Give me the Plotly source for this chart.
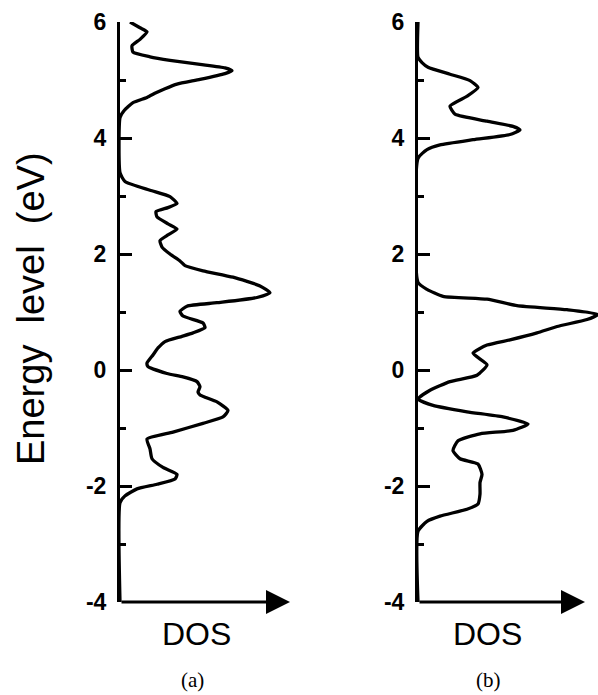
import plotly.graph_objects as go

# Panel (a): energy (eV) and DOS (arb. units)
energy_a = [6.00, 5.90, 5.83, 5.70, 5.59, 5.48, 5.40, 5.34, 5.27, 5.21, 5.16, 5.11, 5.01, 4.93, 4.85,
            4.78, 4.70, 4.61, 4.47, 4.35, 3.40, 3.25, 3.10, 2.99, 2.87, 2.80, 2.73, 2.64, 2.52, 2.43,
            2.33, 2.23, 2.12, 2.00, 1.88, 1.80, 1.71, 1.60, 1.45, 1.33, 1.25, 1.16, 1.10, 1.01, 0.93,
            0.81, 0.73, 0.64, 0.58, 0.49, 0.38, 0.26, 0.12, 0.06, -0.06, -0.12, -0.20, -0.29, -0.38,
            -0.43, -0.55, -0.70, -0.81, -0.92, -1.07, -1.19, -1.36, -1.53, -1.68, -1.80, -1.88, -1.97,
            -2.05, -2.17, -2.29, -4.00]
dos_a = [0.10, 0.20, 0.27, 0.20, 0.12, 0.13, 0.30, 0.50, 0.80, 1.05, 1.12, 1.05, 0.80, 0.57, 0.45,
         0.36, 0.27, 0.13, 0.04, 0.00, 0.00, 0.05, 0.30, 0.50, 0.57, 0.48, 0.36, 0.37, 0.48, 0.57,
         0.48, 0.40, 0.42, 0.50, 0.60, 0.65, 0.83, 1.13, 1.40, 1.50, 1.37, 0.97, 0.67, 0.60, 0.63,
         0.83, 0.85, 0.73, 0.62, 0.45, 0.38, 0.33, 0.27, 0.28, 0.47, 0.63, 0.77, 0.80, 0.78,
         0.80, 0.97, 1.08, 1.03, 0.83, 0.53, 0.27, 0.30, 0.32, 0.43, 0.57, 0.55, 0.37,
         0.17, 0.05, 0.00, 0.00]

# Panel (b)
energy_b = [6.00, 5.39, 5.30, 5.22, 5.10, 4.99, 4.87, 4.72, 4.55, 4.41, 4.29, 4.20, 4.14, 4.06, 3.97,
            3.88, 3.80, 3.65, 1.51, 1.39, 1.27, 1.22, 1.11, 1.04, 0.96, 0.87, 0.75, 0.64, 0.52, 0.43,
            0.29, 0.09, -0.09, -0.20, -0.35, -0.50, -0.61, -0.72, -0.81, -0.93, -1.04, -1.10, -1.22,
            -1.39, -1.53, -1.62, -1.80, -1.94, -2.14, -2.31, -2.40, -2.52, -2.61, -2.78, -4.00]
dos_b = [0.00, 0.00, 0.04, 0.10, 0.32, 0.52, 0.60, 0.49, 0.32, 0.37, 0.69, 0.95, 1.02, 0.92, 0.55,
         0.22, 0.09, 0.00, 0.00, 0.09, 0.25, 0.69, 0.99, 1.49, 1.80, 1.69, 1.39, 1.19, 0.92, 0.69,
         0.55, 0.69, 0.59, 0.32, 0.12, 0.00, 0.15, 0.49, 0.85, 1.10, 0.95, 0.62, 0.40,
         0.35, 0.42, 0.60, 0.64, 0.62, 0.62, 0.60, 0.49, 0.22, 0.09, 0.00, 0.00]

y_ticks = [-4, -2, 0, 2, 4, 6]
panel_labels = ["(a)", "(b)"]
x_title = "DOS"
y_title = "Energy\u00a0\u00a0level\u00a0\u00a0(eV)"

W, H = 598, 695
fig = go.Figure()
fig.add_trace(go.Scatter(x=dos_a, y=energy_a, mode="lines", xaxis="x", yaxis="y",
                         line=dict(color="black", width=3.3, shape="spline", smoothing=0.5),
                         showlegend=False))
fig.add_trace(go.Scatter(x=dos_b, y=energy_b, mode="lines", xaxis="x2", yaxis="y2",
                         line=dict(color="black", width=3.3, shape="spline", smoothing=0.5),
                         showlegend=False))

ydom = [(H - 602) / H, (H - 22) / H]
yax = dict(range=[-4, 6], domain=ydom, showline=True, linewidth=3, linecolor="black",
           ticks="inside", ticklen=12, tickwidth=3, tickcolor="black",
           tickvals=y_ticks, ticktext=[str(v) for v in y_ticks],
           tickfont=dict(family="Liberation Sans, Arial", size=23, color="black", weight="bold"),
           ticklabelstandoff=6, automargin=False,
           minor=dict(dtick=1, tick0=0, ticks="inside", ticklen=6, tickwidth=3, tickcolor="black"),
           showgrid=False, zeroline=False, fixedrange=True)
xax = dict(range=[0, 1.8], showline=False, showticklabels=False, ticks="", automargin=False,
           showgrid=False, zeroline=False, fixedrange=True)

fig.update_layout(
    template="none",
    width=W, height=H, margin=dict(l=0, r=0, t=0, b=0, pad=0, autoexpand=False),
    paper_bgcolor="white", plot_bgcolor="white",
    xaxis=dict(xax, domain=[120 / W, 300 / W], anchor="y"),
    xaxis2=dict(xax, domain=[418 / W, 1.0], anchor="y2"),
    yaxis=dict(yax, anchor="x"),
    yaxis2=dict(yax, anchor="x2"),
)

annotations = []
# DOS axes as arrows
for xr, yr, tip in [("x", "y", 1.70), ("x2", "y2", 1.67)]:
    annotations.append(dict(x=tip, y=-4, ax=0, ay=-4, xref=xr, yref=yr, axref=xr, ayref=yr,
                            text="", showarrow=True, arrowhead=2, arrowsize=1.6, arrowwidth=3,
                            arrowcolor="black", standoff=0, startstandoff=0))
for cx, lx, lbl in [(196, 192, panel_labels[0]), (487, 488, panel_labels[1])]:
    annotations.append(dict(x=cx / W, y=(H - 634) / H, xref="paper", yref="paper", text=x_title,
                            xanchor="center", yanchor="middle", showarrow=False,
                            font=dict(family="Liberation Sans, Arial", size=32, color="black")))
    annotations.append(dict(x=lx / W, y=(H - 680) / H, xref="paper", yref="paper", text=lbl,
                            xanchor="center", yanchor="middle", showarrow=False,
                            font=dict(family="Liberation Serif, Times New Roman", size=21, color="black")))
annotations.append(dict(x=31 / W, y=(H - 309) / H, xref="paper", yref="paper", text=y_title,
                        xanchor="center", yanchor="middle", textangle=-90, showarrow=False,
                        font=dict(family="Liberation Sans, Arial", size=38, color="black")))
fig.update_layout(annotations=annotations)

fig.write_html("out.html")
